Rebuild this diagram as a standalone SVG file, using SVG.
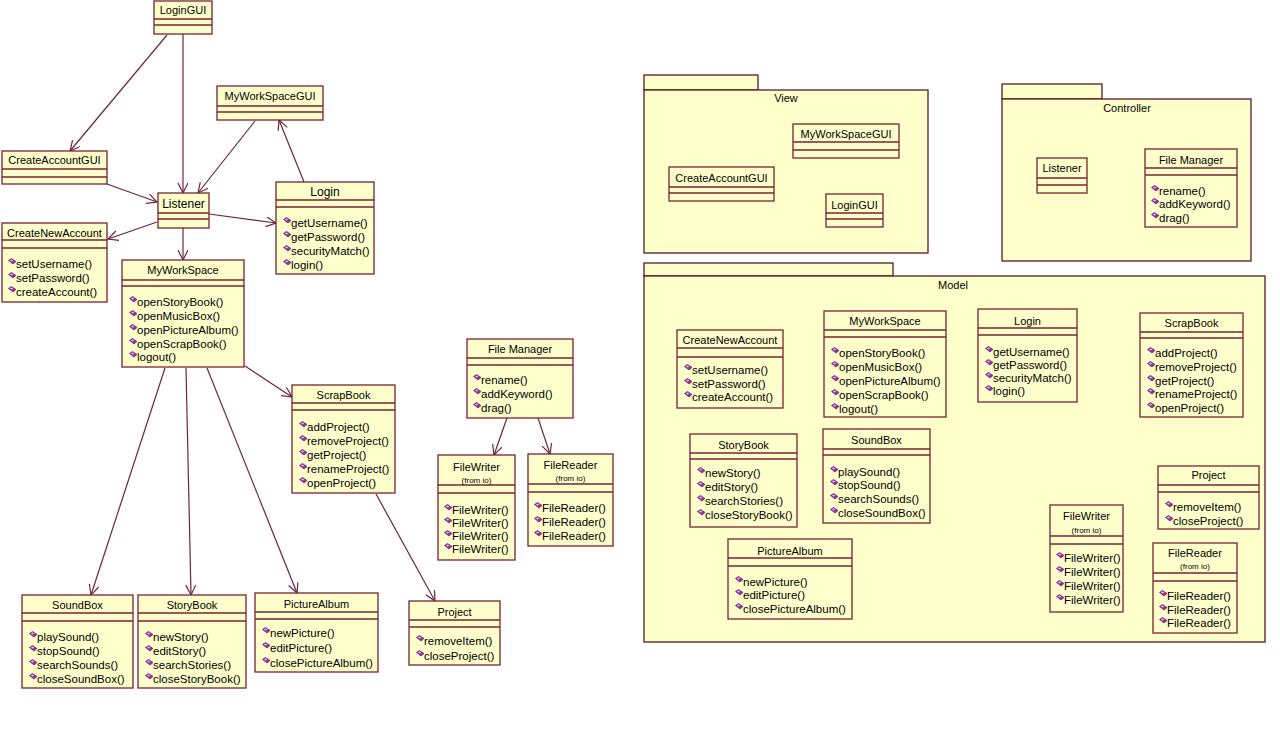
<svg xmlns="http://www.w3.org/2000/svg" xmlns:xlink="http://www.w3.org/1999/xlink" width="1280" height="735" viewBox="0 0 1280 735">
<style>
.bg{fill:#ffffff}
.box{fill:#ffffcc;stroke:#7a2230;stroke-width:1.3}
.pkg{fill:#ffffcc;stroke:#5a1a24;stroke-width:1.3}
.sep{stroke:#7a2230;stroke-width:1.3}
.t{font-family:"Liberation Sans",Arial,sans-serif;font-size:11px;fill:#000}
.o{font-size:11.5px}
.c{text-anchor:middle}
.big{font-size:12px}
.from{font-size:8px}
.conn{stroke:#6e2444;stroke-width:1.2;fill:none;marker-end:url(#arr)}
</style>
<defs>
<marker id="arr" markerUnits="userSpaceOnUse" markerWidth="14" markerHeight="12" refX="11" refY="5" orient="auto">
<path d="M1,0 L11,5 L1,10" fill="none" stroke="#6e2444" stroke-width="1.2"/>
</marker>
<g id="op"><polygon points="-0.5,1.5 2.5,-0.5 7,2.5 4,5" fill="#9a30a8" stroke="#5e1a66" stroke-width="0.7"/><polygon points="0.8,1.6 2.6,0.5 4.3,1.6 2.6,2.6" fill="#e8b8f0"/></g>
</defs>
<rect class="bg" x="0" y="0" width="1280" height="735"/>

<g id="connectors">
<path class="conn" d="M167,35 L70,151"/>
<path class="conn" d="M183,34 L183,193"/>
<path class="conn" d="M255,121 L198,193"/>
<path class="conn" d="M304,182 L279,120"/>
<path class="conn" d="M107,184 L157,202"/>
<path class="conn" d="M157,222 L108,239"/>
<path class="conn" d="M209,214 L276,223"/>
<path class="conn" d="M183,228 L183,260"/>
<path class="conn" d="M245,366 L292,397"/>
<path class="conn" d="M165,368 L91,595"/>
<path class="conn" d="M186,368 L191,595"/>
<path class="conn" d="M207,368 L297,593"/>
<path class="conn" d="M376,494 L435,601"/>
<path class="conn" d="M507,418 L494,455"/>
<path class="conn" d="M538,418 L550,454"/>
</g>

<!-- Left diagram -->
<g id="LoginGUI">
<rect class="box" x="154" y="1" width="58" height="33"/>
<line class="sep" x1="154" y1="19" x2="212" y2="19"/><line class="sep" x1="154" y1="25" x2="212" y2="25"/>
<text class="t c" x="183" y="14">LoginGUI</text>
</g>
<g id="CreateAccountGUI">
<rect class="box" x="2" y="151" width="105" height="33"/>
<line class="sep" x1="2" y1="169" x2="107" y2="169"/><line class="sep" x1="2" y1="177" x2="107" y2="177"/>
<text class="t c" x="54.5" y="164">CreateAccountGUI</text>
</g>
<g id="MyWorkSpaceGUI">
<rect class="box" x="217" y="86" width="106" height="34"/>
<line class="sep" x1="217" y1="106" x2="323" y2="106"/><line class="sep" x1="217" y1="112" x2="323" y2="112"/>
<text class="t c" x="270" y="100">MyWorkSpaceGUI</text>
</g>
<g id="Listener">
<rect class="box" x="158" y="193" width="51" height="35"/>
<line class="sep" x1="158" y1="213" x2="209" y2="213"/><line class="sep" x1="158" y1="219" x2="209" y2="219"/>
<text class="t c big" x="183.5" y="208">Listener</text>
</g>
<g id="Login">
<rect class="box" x="276" y="182" width="98" height="92"/>
<line class="sep" x1="276" y1="200" x2="374" y2="200"/><line class="sep" x1="276" y1="207" x2="374" y2="207"/>
<text class="t c big" x="325" y="196">Login</text>
<use href="#op" x="284" y="218"/><text class="t o" x="291" y="227">getUsername()</text>
<use href="#op" x="284" y="232"/><text class="t o" x="291" y="241">getPassword()</text>
<use href="#op" x="284" y="246"/><text class="t o" x="291" y="255">securityMatch()</text>
<use href="#op" x="284" y="260"/><text class="t o" x="291" y="269">login()</text>
</g>
<g id="CreateNewAccount">
<rect class="box" x="2" y="223" width="105" height="79"/>
<line class="sep" x1="2" y1="240" x2="107" y2="240"/><line class="sep" x1="2" y1="248" x2="107" y2="248"/>
<text class="t c" x="54.5" y="237">CreateNewAccount</text>
<use href="#op" x="9" y="259"/><text class="t o" x="16" y="268">setUsername()</text>
<use href="#op" x="9" y="273"/><text class="t o" x="16" y="282">setPassword()</text>
<use href="#op" x="9" y="287"/><text class="t o" x="16" y="296">createAccount()</text>
</g>
<g id="MyWorkSpace">
<rect class="box" x="122" y="260" width="122" height="107"/>
<line class="sep" x1="122" y1="280" x2="244" y2="280"/><line class="sep" x1="122" y1="286" x2="244" y2="286"/>
<text class="t c" x="183" y="274">MyWorkSpace</text>
<use href="#op" x="130" y="297"/><text class="t o" x="137" y="306">openStoryBook()</text>
<use href="#op" x="130" y="311"/><text class="t o" x="137" y="320">openMusicBox()</text>
<use href="#op" x="130" y="325"/><text class="t o" x="137" y="334">openPictureAlbum()</text>
<use href="#op" x="130" y="339"/><text class="t o" x="137" y="348">openScrapBook()</text>
<use href="#op" x="130" y="352"/><text class="t o" x="137" y="361">logout()</text>
</g>
<g id="ScrapBook">
<rect class="box" x="292" y="385" width="103" height="108"/>
<line class="sep" x1="292" y1="403" x2="395" y2="403"/><line class="sep" x1="292" y1="410" x2="395" y2="410"/>
<text class="t c" x="343.5" y="399">ScrapBook</text>
<use href="#op" x="300" y="422"/><text class="t o" x="307" y="431">addProject()</text>
<use href="#op" x="300" y="436"/><text class="t o" x="307" y="445">removeProject()</text>
<use href="#op" x="300" y="450"/><text class="t o" x="307" y="459">getProject()</text>
<use href="#op" x="300" y="464"/><text class="t o" x="307" y="473">renameProject()</text>
<use href="#op" x="300" y="478"/><text class="t o" x="307" y="487">openProject()</text>
</g>
<g id="FileManager">
<rect class="box" x="467" y="339" width="106" height="79"/>
<line class="sep" x1="467" y1="358" x2="573" y2="358"/><line class="sep" x1="467" y1="365" x2="573" y2="365"/>
<text class="t c" x="520" y="353">File Manager</text>
<use href="#op" x="474" y="375"/><text class="t o" x="481" y="384">rename()</text>
<use href="#op" x="474" y="389"/><text class="t o" x="481" y="398">addKeyword()</text>
<use href="#op" x="474" y="403"/><text class="t o" x="481" y="412">drag()</text>
</g>
<g id="FileWriter">
<rect class="box" x="438" y="455" width="77" height="105"/>
<line class="sep" x1="438" y1="485" x2="515" y2="485"/><line class="sep" x1="438" y1="493" x2="515" y2="493"/>
<text class="t c" x="476.5" y="471">FileWriter</text>
<text class="t c from" x="476.5" y="483">(from io)</text>
<use href="#op" x="445" y="505"/><text class="t o" x="452" y="514">FileWriter()</text>
<use href="#op" x="445" y="518"/><text class="t o" x="452" y="527">FileWriter()</text>
<use href="#op" x="445" y="531"/><text class="t o" x="452" y="540">FileWriter()</text>
<use href="#op" x="445" y="544"/><text class="t o" x="452" y="553">FileWriter()</text>
</g>
<g id="FileReader">
<rect class="box" x="528" y="454" width="85" height="92"/>
<line class="sep" x1="528" y1="484" x2="613" y2="484"/><line class="sep" x1="528" y1="492" x2="613" y2="492"/>
<text class="t c" x="570.5" y="469">FileReader</text>
<text class="t c from" x="570.5" y="481">(from io)</text>
<use href="#op" x="535" y="503"/><text class="t o" x="542" y="512">FileReader()</text>
<use href="#op" x="535" y="517"/><text class="t o" x="542" y="526">FileReader()</text>
<use href="#op" x="535" y="531"/><text class="t o" x="542" y="540">FileReader()</text>
</g>
<g id="SoundBox">
<rect class="box" x="22" y="595" width="111" height="93"/>
<line class="sep" x1="22" y1="613" x2="133" y2="613"/><line class="sep" x1="22" y1="621" x2="133" y2="621"/>
<text class="t c" x="77.5" y="609">SoundBox</text>
<use href="#op" x="30" y="632"/><text class="t o" x="37" y="641">playSound()</text>
<use href="#op" x="30" y="646"/><text class="t o" x="37" y="655">stopSound()</text>
<use href="#op" x="30" y="660"/><text class="t o" x="37" y="669">searchSounds()</text>
<use href="#op" x="30" y="674"/><text class="t o" x="37" y="683">closeSoundBox()</text>
</g>
<g id="StoryBook">
<rect class="box" x="138" y="595" width="108" height="93"/>
<line class="sep" x1="138" y1="613" x2="246" y2="613"/><line class="sep" x1="138" y1="621" x2="246" y2="621"/>
<text class="t c" x="192" y="609">StoryBook</text>
<use href="#op" x="146" y="632"/><text class="t o" x="153" y="641">newStory()</text>
<use href="#op" x="146" y="646"/><text class="t o" x="153" y="655">editStory()</text>
<use href="#op" x="146" y="660"/><text class="t o" x="153" y="669">searchStories()</text>
<use href="#op" x="146" y="674"/><text class="t o" x="153" y="683">closeStoryBook()</text>
</g>
<g id="PictureAlbum">
<rect class="box" x="255" y="593" width="123" height="79"/>
<line class="sep" x1="255" y1="612" x2="378" y2="612"/><line class="sep" x1="255" y1="619" x2="378" y2="619"/>
<text class="t c" x="316.5" y="608">PictureAlbum</text>
<use href="#op" x="263" y="628"/><text class="t o" x="270" y="637">newPicture()</text>
<use href="#op" x="263" y="643"/><text class="t o" x="270" y="652">editPicture()</text>
<use href="#op" x="263" y="658"/><text class="t o" x="270" y="667">closePictureAlbum()</text>
</g>
<g id="Project">
<rect class="box" x="409" y="601" width="91" height="64"/>
<line class="sep" x1="409" y1="620" x2="500" y2="620"/><line class="sep" x1="409" y1="627" x2="500" y2="627"/>
<text class="t c" x="454.5" y="616">Project</text>
<use href="#op" x="417" y="636"/><text class="t o" x="424" y="645">removeItem()</text>
<use href="#op" x="417" y="651"/><text class="t o" x="424" y="660">closeProject()</text>
</g>

<!-- Right: packages -->
<g id="pkgView">
<rect class="pkg" x="644" y="75" width="114" height="15"/>
<rect class="pkg" x="644" y="90" width="284" height="163"/>
<text class="t c" x="786" y="102">View</text>
<g id="v-MyWorkSpaceGUI">
<rect class="box" x="793" y="124" width="106" height="34"/>
<line class="sep" x1="793" y1="142" x2="899" y2="142"/><line class="sep" x1="793" y1="150" x2="899" y2="150"/>
<text class="t c" x="846" y="138">MyWorkSpaceGUI</text>
</g>
<g id="v-CreateAccountGUI">
<rect class="box" x="669" y="167" width="105" height="34"/>
<line class="sep" x1="669" y1="187" x2="774" y2="187"/><line class="sep" x1="669" y1="193" x2="774" y2="193"/>
<text class="t c" x="721.5" y="182">CreateAccountGUI</text>
</g>
<g id="v-LoginGUI">
<rect class="box" x="826" y="194" width="57" height="33"/>
<line class="sep" x1="826" y1="213" x2="883" y2="213"/><line class="sep" x1="826" y1="219" x2="883" y2="219"/>
<text class="t c" x="854.5" y="209">LoginGUI</text>
</g>
</g>

<g id="pkgController">
<rect class="pkg" x="1002" y="84" width="100" height="15"/>
<rect class="pkg" x="1002" y="99" width="249" height="162"/>
<text class="t c" x="1127" y="112">Controller</text>
<g id="c-Listener">
<rect class="box" x="1037" y="158" width="50" height="35"/>
<line class="sep" x1="1037" y1="178" x2="1087" y2="178"/><line class="sep" x1="1037" y1="185" x2="1087" y2="185"/>
<text class="t c" x="1062" y="172">Listener</text>
</g>
<g id="c-FileManager">
<rect class="box" x="1145" y="149" width="92" height="78"/>
<line class="sep" x1="1145" y1="168" x2="1237" y2="168"/><line class="sep" x1="1145" y1="175" x2="1237" y2="175"/>
<text class="t c" x="1191" y="164">File Manager</text>
<use href="#op" x="1152" y="186"/><text class="t o" x="1159" y="195">rename()</text>
<use href="#op" x="1152" y="199"/><text class="t o" x="1159" y="208">addKeyword()</text>
<use href="#op" x="1152" y="213"/><text class="t o" x="1159" y="222">drag()</text>
</g>
</g>

<g id="pkgModel">
<rect class="pkg" x="644" y="263" width="249" height="13"/>
<rect class="pkg" x="644" y="276" width="621" height="366"/>
<text class="t c" x="953" y="289">Model</text>
<g id="m-CreateNewAccount">
<rect class="box" x="677" y="330" width="106" height="78"/>
<line class="sep" x1="677" y1="348" x2="783" y2="348"/><line class="sep" x1="677" y1="357" x2="783" y2="357"/>
<text class="t c" x="730" y="344">CreateNewAccount</text>
<use href="#op" x="685" y="365"/><text class="t o" x="692" y="374">setUsername()</text>
<use href="#op" x="685" y="379"/><text class="t o" x="692" y="388">setPassword()</text>
<use href="#op" x="685" y="392"/><text class="t o" x="692" y="401">createAccount()</text>
</g>
<g id="m-MyWorkSpace">
<rect class="box" x="824" y="311" width="122" height="106"/>
<line class="sep" x1="824" y1="330" x2="946" y2="330"/><line class="sep" x1="824" y1="337" x2="946" y2="337"/>
<text class="t c" x="885" y="325">MyWorkSpace</text>
<use href="#op" x="832" y="348"/><text class="t o" x="839" y="357">openStoryBook()</text>
<use href="#op" x="832" y="362"/><text class="t o" x="839" y="371">openMusicBox()</text>
<use href="#op" x="832" y="376"/><text class="t o" x="839" y="385">openPictureAlbum()</text>
<use href="#op" x="832" y="390"/><text class="t o" x="839" y="399">openScrapBook()</text>
<use href="#op" x="832" y="404"/><text class="t o" x="839" y="413">logout()</text>
</g>
<g id="m-Login">
<rect class="box" x="978" y="309" width="99" height="93"/>
<line class="sep" x1="978" y1="328" x2="1077" y2="328"/><line class="sep" x1="978" y1="335" x2="1077" y2="335"/>
<text class="t c" x="1027.5" y="325">Login</text>
<use href="#op" x="986" y="347"/><text class="t o" x="993" y="356">getUsername()</text>
<use href="#op" x="986" y="360"/><text class="t o" x="993" y="369">getPassword()</text>
<use href="#op" x="986" y="373"/><text class="t o" x="993" y="382">securityMatch()</text>
<use href="#op" x="986" y="386"/><text class="t o" x="993" y="395">login()</text>
</g>
<g id="m-ScrapBook">
<rect class="box" x="1140" y="313" width="103" height="104"/>
<line class="sep" x1="1140" y1="332" x2="1243" y2="332"/><line class="sep" x1="1140" y1="338" x2="1243" y2="338"/>
<text class="t c" x="1191.5" y="327">ScrapBook</text>
<use href="#op" x="1148" y="348"/><text class="t o" x="1155" y="357">addProject()</text>
<use href="#op" x="1148" y="362"/><text class="t o" x="1155" y="371">removeProject()</text>
<use href="#op" x="1148" y="376"/><text class="t o" x="1155" y="385">getProject()</text>
<use href="#op" x="1148" y="389"/><text class="t o" x="1155" y="398">renameProject()</text>
<use href="#op" x="1148" y="403"/><text class="t o" x="1155" y="412">openProject()</text>
</g>
<g id="m-StoryBook">
<rect class="box" x="690" y="434" width="107" height="93"/>
<line class="sep" x1="690" y1="453" x2="797" y2="453"/><line class="sep" x1="690" y1="459" x2="797" y2="459"/>
<text class="t c" x="743.5" y="449">StoryBook</text>
<use href="#op" x="698" y="468"/><text class="t o" x="705" y="477">newStory()</text>
<use href="#op" x="698" y="482"/><text class="t o" x="705" y="491">editStory()</text>
<use href="#op" x="698" y="496"/><text class="t o" x="705" y="505">searchStories()</text>
<use href="#op" x="698" y="510"/><text class="t o" x="705" y="519">closeStoryBook()</text>
</g>
<g id="m-SoundBox">
<rect class="box" x="823" y="429" width="107" height="94"/>
<line class="sep" x1="823" y1="449" x2="930" y2="449"/><line class="sep" x1="823" y1="455" x2="930" y2="455"/>
<text class="t c" x="876.5" y="444">SoundBox</text>
<use href="#op" x="831" y="467"/><text class="t o" x="838" y="476">playSound()</text>
<use href="#op" x="831" y="480"/><text class="t o" x="838" y="489">stopSound()</text>
<use href="#op" x="831" y="494"/><text class="t o" x="838" y="503">searchSounds()</text>
<use href="#op" x="831" y="508"/><text class="t o" x="838" y="517">closeSoundBox()</text>
</g>
<g id="m-PictureAlbum">
<rect class="box" x="728" y="539" width="124" height="80"/>
<line class="sep" x1="728" y1="558" x2="852" y2="558"/><line class="sep" x1="728" y1="566" x2="852" y2="566"/>
<text class="t c" x="790" y="555">PictureAlbum</text>
<use href="#op" x="736" y="577"/><text class="t o" x="743" y="586">newPicture()</text>
<use href="#op" x="736" y="590"/><text class="t o" x="743" y="599">editPicture()</text>
<use href="#op" x="736" y="604"/><text class="t o" x="743" y="613">closePictureAlbum()</text>
</g>
<g id="m-Project">
<rect class="box" x="1158" y="466" width="101" height="63"/>
<line class="sep" x1="1158" y1="485" x2="1259" y2="485"/><line class="sep" x1="1158" y1="492" x2="1259" y2="492"/>
<text class="t c" x="1208.5" y="479">Project</text>
<use href="#op" x="1166" y="502"/><text class="t o" x="1173" y="511">removeItem()</text>
<use href="#op" x="1166" y="516"/><text class="t o" x="1173" y="525">closeProject()</text>
</g>
<g id="m-FileWriter">
<rect class="box" x="1050" y="505" width="73" height="107"/>
<line class="sep" x1="1050" y1="536" x2="1123" y2="536"/><line class="sep" x1="1050" y1="544" x2="1123" y2="544"/>
<text class="t c" x="1086.5" y="520">FileWriter</text>
<text class="t c from" x="1086.5" y="533">(from io)</text>
<use href="#op" x="1057" y="553"/><text class="t o" x="1064" y="562">FileWriter()</text>
<use href="#op" x="1057" y="567"/><text class="t o" x="1064" y="576">FileWriter()</text>
<use href="#op" x="1057" y="581"/><text class="t o" x="1064" y="590">FileWriter()</text>
<use href="#op" x="1057" y="595"/><text class="t o" x="1064" y="604">FileWriter()</text>
</g>
<g id="m-FileReader">
<rect class="box" x="1153" y="543" width="84" height="90"/>
<line class="sep" x1="1153" y1="573" x2="1237" y2="573"/><line class="sep" x1="1153" y1="581" x2="1237" y2="581"/>
<text class="t c" x="1195" y="557">FileReader</text>
<text class="t c from" x="1195" y="569">(from io)</text>
<use href="#op" x="1160" y="591"/><text class="t o" x="1167" y="600">FileReader()</text>
<use href="#op" x="1160" y="605"/><text class="t o" x="1167" y="614">FileReader()</text>
<use href="#op" x="1160" y="618"/><text class="t o" x="1167" y="627">FileReader()</text>
</g>
</g>
</svg>
